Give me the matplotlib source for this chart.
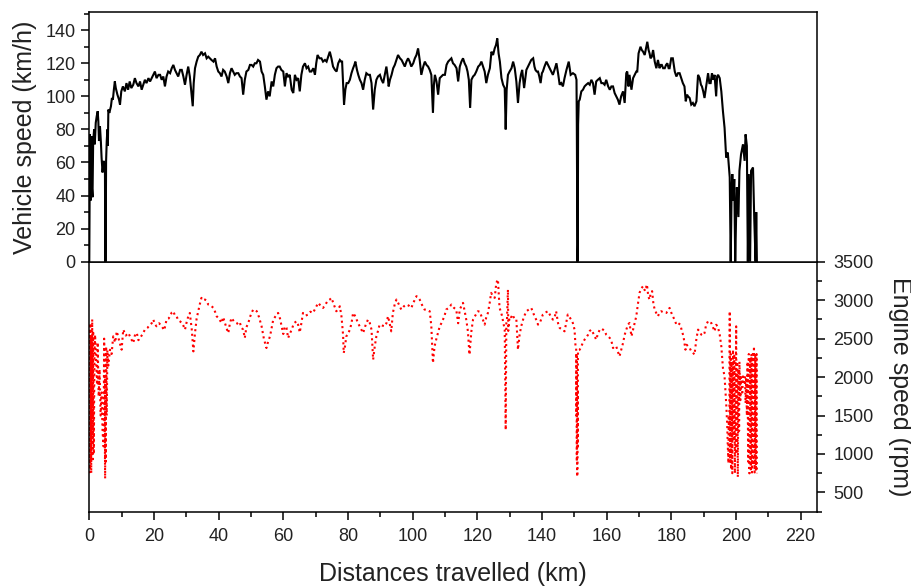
import matplotlib
matplotlib.use("Agg")
import matplotlib.pyplot as plt
from matplotlib.ticker import MultipleLocator

plt.rcParams["font.family"] = ["Liberation Sans", "DejaVu Sans"]
TEXT = "#222222"

# ─── Vehicle speed log (distance km, speed km/h) ──────────────────────────────
speed_km = [
    0.0, 0.2, 0.4, 0.6, 0.8, 1.0, 1.2, 1.5, 1.7, 2.0, 2.3, 2.6, 2.8, 3.0, 3.3, 3.6,
    3.8, 4.1, 4.3, 4.5, 4.7, 4.85, 4.95, 5.05, 5.2, 5.4, 5.6, 5.75, 5.9, 6.2, 6.7,
    7.0, 7.3, 7.6, 7.9, 8.2,
    8.7, 9.2, 9.5, 9.9, 10.4, 11.0, 11.5, 12.0, 12.5, 13.0, 13.6, 14.1, 14.6, 15.2,
    15.7, 16.2, 16.7, 17.2, 17.7, 18.3, 18.8, 19.3, 19.8, 20.3, 20.8, 21.4, 21.9,
    22.4, 22.9, 23.4, 23.9, 24.4, 25.0, 25.5, 26.0, 26.5, 27.0, 27.5, 28.1, 28.6,
    29.1, 29.6, 30.1, 30.6, 31.1, 31.5, 32.0, 32.3, 32.7, 33.2, 33.7, 34.2, 34.7,
    35.2, 35.8, 36.3, 36.8, 37.3, 37.8, 38.4, 38.9, 39.4, 39.9, 40.4, 40.9, 41.4,
    41.9, 42.5, 43.0, 43.5, 44.0, 44.5, 45.0, 45.5, 46.1, 46.6, 47.1, 47.6, 48.1,
    48.6, 49.2, 49.7, 50.2, 50.7, 51.2, 51.7, 52.2, 52.8, 53.3, 53.8, 54.3, 54.8,
    55.3, 55.8,
    56.4, 56.9, 57.4, 57.9, 58.4, 58.9, 59.4, 60.0, 60.5, 61.0, 61.5, 62.0, 62.6,
    63.1, 63.6, 64.1, 64.6, 65.1, 65.6, 66.1, 66.7, 67.2, 67.7, 68.2, 68.7, 69.3,
    69.8, 70.2, 70.6, 71.2, 71.8, 72.3, 72.9, 73.4, 73.9, 74.4, 74.9, 75.4, 76.0,
    76.5, 77.0, 77.5, 77.9, 78.2, 78.5, 78.8, 79.2, 79.6, 80.1, 80.6, 81.1, 81.6,
    82.0, 82.3, 82.8, 83.2, 83.7, 84.2, 84.7, 85.2, 85.7, 86.3, 86.8, 87.3, 87.8,
    88.3, 88.8, 89.3, 89.9, 90.4, 90.9, 91.4, 91.9, 92.3, 92.6, 93.0, 93.5, 94.0,
    94.5, 95.0, 95.5, 96.1, 96.6, 97.1, 97.6, 98.1, 98.6, 99.1, 99.6, 100.2, 100.7,
    101.2, 101.7, 102.2, 102.7, 103.3, 103.8, 104.3, 104.8, 105.3, 105.8, 106.3,
    106.6, 106.9, 107.4, 107.9, 108.4, 108.9, 109.4, 110.0,
    110.5, 111.0, 111.5, 112.0, 112.5, 113.0, 113.6, 114.1, 114.6, 115.1, 115.6,
    116.1, 116.6, 117.0, 117.4, 117.8, 118.2, 118.7, 119.2, 119.7, 120.3, 120.8,
    121.3, 121.8, 122.3, 122.8, 123.3, 123.9, 124.4, 124.9, 125.4, 125.8, 126.2,
    126.6, 127.0, 127.5, 128.0, 128.5, 128.8, 129.1, 129.5, 130.0, 130.6, 131.1,
    131.6, 132.1, 132.6, 133.1, 133.5, 133.9, 134.5, 135.2, 135.7, 136.2, 136.7,
    137.3, 137.7, 138.0, 138.4, 138.8, 139.2, 139.6, 140.0, 140.3, 140.8, 141.4,
    141.9, 142.4, 142.9, 143.4, 143.9, 144.5, 145.0, 145.5, 146.0, 146.5, 147.0,
    147.6, 148.0, 148.3, 148.9, 149.6, 150.3, 150.7, 150.8, 150.95, 151.0, 151.1,
    151.2, 151.4, 151.7, 152.2, 152.7, 153.2, 153.7, 154.3, 154.8, 155.3, 155.8,
    156.3, 156.8, 157.3, 157.9, 158.4, 158.9, 159.4, 159.9, 160.5, 161.0, 161.5,
    162.0, 162.5, 163.0, 163.5, 164.0, 164.5, 165.1, 165.6, 166.1, 166.4, 166.8,
    167.1, 167.7, 168.2, 168.7, 169.2, 169.5, 169.9, 170.5, 170.9, 171.3, 171.8,
    172.2, 172.6, 173.0, 173.3, 173.6, 174.0, 174.4, 174.9, 175.4, 175.9, 176.4,
    176.8, 177.1, 177.5, 178.0, 178.4, 178.8, 179.2, 179.5, 180.0, 180.5, 181.1,
    181.6, 182.1, 182.6, 183.1, 183.6, 184.1, 184.5, 184.9, 185.2, 185.7, 186.2,
    186.7, 187.2, 187.8, 188.3, 188.8, 189.2, 189.5, 189.9, 190.3, 190.8, 191.4,
    191.8, 192.2, 192.6, 193.0, 193.4, 193.9, 194.2, 194.5, 195.0, 195.5, 196.0,
    196.5, 197.0, 197.5, 198.1, 198.4, 198.7, 198.9, 199.3, 199.5, 199.8, 200.1,
    200.3, 200.8, 201.1, 201.6, 202.2, 202.7, 203.0, 203.4, 203.7, 204.0, 204.4,
    204.7, 205.3, 205.5, 205.7, 206.1, 206.3, 206.5,
]
speed_kmh = [
    0, 77, 37, 76, 45, 39, 73, 80, 71, 84, 88, 91, 85, 73, 82, 72,
    63, 54, 58, 61, 56, 54, 0, 0, 61, 73, 80, 70, 92, 90, 94,
    99, 98, 104, 109, 105,
    101, 98, 95, 103, 106, 103, 108, 104, 109, 105, 107, 111, 108, 106,
    109, 104, 107, 110, 108, 111, 109, 111, 113, 115, 111, 113, 113,
    110, 112, 106, 112, 115, 114, 117, 119, 116, 114, 112, 116, 116,
    112, 107, 113, 118, 112, 104, 94, 108, 117, 121, 124, 125, 127,
    125, 126, 123, 124, 123, 122, 121, 123, 118, 115, 114, 112, 116,
    115, 112, 108, 114, 117, 115, 113, 114, 114, 112, 111, 101, 110,
    115, 116, 119, 119, 118, 120, 120, 122, 121, 115, 113, 106, 98,
    103, 100,
    109, 106, 113, 117, 118, 118, 116, 115, 106, 114, 112, 113, 104,
    102, 113, 110, 111, 103, 113, 118, 120, 117, 118, 115, 115, 117,
    113, 120, 125, 123, 123, 121, 122, 121, 124, 127, 123, 118, 116,
    115, 120, 122, 121, 121, 108, 95, 104, 108, 108, 110, 114, 117,
    119, 121, 116, 113, 110, 108, 104, 110, 114, 113, 113, 108, 92,
    104, 110, 112, 113, 110, 108, 113, 118, 112, 106, 110, 113, 117,
    119, 122, 125, 123, 122, 120, 118, 121, 123, 121, 118, 120, 123,
    125, 129, 122, 113, 118, 121, 119, 118, 116, 113, 90,
    107, 113, 109, 101, 111, 112, 113, 113,
    119, 121, 122, 123, 120, 119, 117, 109, 118, 121, 123,
    120, 118, 115, 110, 93, 110, 112, 113, 115, 118, 119,
    121, 118, 115, 108, 113, 117, 127, 125, 129, 131, 135,
    126, 121, 111, 107, 105, 80, 104, 113, 115, 117, 121,
    117, 109, 96, 108, 113, 116, 105, 116, 118, 120, 122,
    123, 118, 116, 115, 115, 112, 108, 114, 115, 118, 121,
    119, 117, 115, 113, 116, 120, 114, 107, 108, 106, 111,
    116, 119, 121, 113, 114, 113, 110, 83, 10, 0, 10,
    83, 97, 98, 103, 104, 106, 107, 108, 107, 110, 108,
    101, 109, 110, 111, 108, 108, 107, 110, 106, 104, 106,
    106, 102, 100, 98, 95, 100, 103, 96, 114, 115, 106,
    113, 104, 111, 113, 115, 115, 126, 130, 128, 127, 125,
    129, 133, 128, 126, 123, 124, 128, 121, 117, 122, 117,
    119, 119, 117, 117, 119, 120, 117, 117, 123, 123, 115,
    112, 114, 114, 111, 108, 106, 97, 101, 100, 99, 95,
    96, 94, 97, 113, 111, 107, 106, 103, 99, 106, 114,
    108, 108, 114, 110, 113, 100, 112, 113, 111, 103, 91,
    81, 63, 66, 51, 0, 45, 53, 37, 50, 0, 30,
    45, 27, 55, 65, 71, 61, 77, 70, 0, 53, 0,
    55, 57, 40, 25, 0, 30, 0,
]

# ─── Engine speed log (distance km, rpm) ──────────────────────────────────────
rpm_km = [
    0.0, 0.1, 0.2, 0.3, 0.4, 0.5, 0.6, 0.7, 0.8, 0.9, 1.0, 1.2, 1.4, 1.6, 1.8, 2.1,
    2.4, 2.6, 2.9, 3.2, 3.5, 3.8, 4.1, 4.4, 4.6, 4.8, 4.9, 5.0, 5.1, 5.2, 5.4, 5.6,
    5.9, 6.4, 6.9, 7.4, 8.0, 8.5, 9.2, 10.0, 10.5, 11.3, 12.1, 12.9, 13.6, 14.2,
    14.7, 15.2, 15.7, 16.5, 17.2, 18.0, 18.8, 19.3, 19.8, 20.3, 20.8, 21.6, 22.4,
    23.2, 23.9, 24.5, 25.0, 25.5, 26.0, 26.5, 27.0, 27.5, 28.0, 28.8, 29.6, 30.3,
    31.1, 31.7, 32.2, 32.7, 33.2, 33.7, 34.2, 34.7, 35.3, 35.8, 36.3, 36.8, 37.6,
    38.4, 38.9, 39.4, 40.1, 40.9, 41.4, 42.0, 42.5, 43.0, 43.5, 44.0, 44.8, 45.6,
    46.1, 46.6, 47.1, 47.6, 48.1, 48.6, 49.2, 49.7, 50.2, 50.7, 51.3, 51.8, 52.5,
    53.3, 54.0, 54.8, 55.3, 55.9, 56.4, 56.9, 57.6, 58.4, 59.0, 59.5, 60.0, 60.5,
    61.0, 61.5, 62.0, 62.6, 63.3, 64.1, 64.6, 65.1, 65.6, 66.1, 66.9, 67.7, 68.4,
    69.2, 70.0, 70.8, 71.5, 72.3, 73.0, 73.7, 74.4, 74.9, 75.6, 76.4, 77.0, 77.5,
    78.0, 78.5, 78.7, 79.1, 79.5, 80.0, 80.6, 81.1, 81.6, 82.3, 83.1, 83.9, 84.7,
    85.5, 86.2, 86.8, 87.3, 87.8, 88.3, 88.8, 89.3, 89.8, 90.6, 91.4, 91.9, 92.4,
    92.9, 93.4, 93.9, 94.5, 95.0, 95.7, 96.5, 97.3, 98.1, 98.8, 99.6, 100.4, 101.2,
    101.7, 102.2, 102.9, 103.7, 104.5, 105.3, 105.8, 106.3, 106.8, 107.3, 107.9,
    108.4, 108.9, 109.4, 109.9, 110.4, 111.2, 112.0, 112.8, 113.5, 114.1, 114.6,
    115.6, 116.1, 116.6, 117.1, 117.6, 118.2, 118.7, 119.4, 120.2, 120.8, 121.3,
    121.8, 122.3, 122.8, 123.3, 123.8, 124.3, 124.9, 125.4, 125.9, 126.4, 126.9,
    127.3, 127.7, 128.1, 128.5, 128.8, 129.0, 129.2, 129.5, 129.6, 130.0, 130.5,
    131.0, 131.5, 132.1, 132.6, 133.1, 133.6, 134.4, 135.2, 136.0, 136.7, 137.2,
    137.7, 138.2, 138.8, 139.5, 140.3, 141.1, 141.9, 142.6, 143.4, 144.0, 144.4,
    145.0, 145.5, 146.2, 147.0, 147.5, 148.0, 148.5, 149.1, 149.6, 150.1, 150.4,
    150.6, 150.7, 150.75, 150.8, 150.85, 150.9, 151.0, 151.05, 151.1, 151.15,
    151.2, 151.7, 152.2, 152.7, 153.2, 153.8, 154.3, 154.8, 155.3, 156.0, 156.8,
    157.3, 157.9, 158.4, 158.9, 159.4, 159.9, 160.5, 161.0, 161.5, 162.0, 162.5,
    163.0, 163.5, 164.0, 164.5, 165.1, 165.6, 166.1, 166.6, 167.1, 167.7, 168.2,
    168.7, 169.2, 169.7, 170.2, 170.7, 171.3, 171.9, 172.5, 172.9, 173.3, 173.7,
    174.1, 174.5, 174.9, 175.4, 175.9, 176.4, 176.9, 177.7, 178.5, 179.0, 179.5,
    180.0, 180.5, 181.1, 181.6, 182.2, 182.8, 183.3, 183.8, 184.4, 184.8, 185.2,
    185.7, 186.2, 186.7, 187.2, 187.8, 188.3, 188.8, 189.3, 189.8, 190.3, 190.8,
    191.4, 191.9, 192.4, 192.9, 193.4, 193.9, 194.4, 195.0, 195.5, 196.0, 196.5,
    197.0, 197.3, 197.5, 197.7, 197.8, 198.0, 198.1, 198.2, 198.4, 198.5, 198.7,
    198.9, 199.1, 199.3, 199.5, 199.7, 199.9, 200.1, 200.2, 200.4, 200.6, 200.8,
    201.0, 201.1, 201.4, 201.6, 202.0, 202.2, 202.5, 202.8, 203.0, 203.2, 203.4,
    203.6, 203.8, 204.0, 204.2, 204.4, 204.6, 204.8, 205.0, 205.2, 205.4, 205.6,
    205.8, 206.0, 206.2, 206.4, 206.5,
]
engine_rpm = [
    750, 2600, 800, 2700, 900, 2500, 750, 2400, 1200, 2750, 900, 2600, 1000, 2300, 2550, 2200,
    1900, 2450, 1750, 2100, 1500, 1800, 1300, 1100, 2500, 1200, 680, 2000, 900, 2400, 1500, 2350,
    2150, 2356, 2300, 2530, 2450, 2595, 2480, 2356, 2617, 2540, 2573, 2500, 2443, 2560,
    2573, 2480, 2508, 2560, 2617, 2640, 2682, 2700, 2747, 2690, 2660, 2700, 2660,
    2610, 2747, 2760, 2791, 2840, 2856, 2800, 2791, 2740, 2726, 2700, 2617, 2750,
    2834, 2617, 2334, 2573, 2760, 2856, 2950, 3030, 3000, 3008, 2990, 2943, 2930,
    2899, 2850, 2791, 2760, 2704, 2780, 2700, 2630, 2573, 2700, 2769, 2720, 2704,
    2680, 2704, 2640, 2617, 2508, 2650, 2704, 2780, 2834, 2878, 2870, 2856, 2780,
    2660, 2500, 2378, 2460, 2530, 2640, 2747, 2790, 2834, 2760, 2660, 2560, 2660,
    2640, 2508, 2560, 2617, 2700, 2726, 2680, 2580, 2700, 2834, 2800, 2812, 2850,
    2834, 2900, 2965, 2930, 2899, 2940, 2990, 3008, 3030, 2950, 2856, 2880, 2921,
    2791, 2550, 2313, 2400, 2530, 2560, 2617, 2700, 2834, 2790, 2704, 2640, 2573,
    2680, 2747, 2700, 2617, 2226, 2400, 2530, 2600, 2682, 2670, 2660, 2700, 2791,
    2700, 2595, 2834, 2950, 3008, 2950, 2878, 2920, 2943, 2930, 2899, 2980, 3052,
    3040, 3008, 2940, 2878, 2870, 2856, 2660, 2182, 2400, 2487, 2580,
    2660, 2700, 2747, 2800, 2878, 2900, 2943, 2900, 2878, 2700, 2880,
    2965, 2860, 2747, 2600, 2291, 2600, 2747, 2800, 2856, 2850, 2791,
    2740, 2682, 2780, 2834, 2950, 3095, 3050, 3030, 3225, 3269, 2899,
    2850, 2791, 2700, 2617, 1313, 2700, 2750, 3138, 2600, 2791, 2780,
    2812, 2750, 2747, 2356, 2550, 2660, 2780, 2856, 2880, 2899, 2850,
    2791, 2750, 2682, 2720, 2813, 2840, 2856, 2800, 2747, 2790, 2856,
    2700, 2639, 2620, 2595, 2700, 2813, 2780, 2747, 2700, 2617, 2400,
    2380, 1500, 2300, 900, 2000, 705, 720, 1800, 1100, 2300,
    2350, 2356, 2400, 2450, 2487, 2520, 2552, 2600, 2617, 2560, 2487,
    2560, 2617, 2630, 2617, 2600, 2552, 2530, 2508, 2470, 2378, 2400,
    2400, 2330, 2269, 2350, 2443, 2550, 2617, 2680, 2704, 2530, 2617,
    2700, 2791, 2950, 3095, 3150, 3182, 3120, 3204, 3050, 3008, 3100,
    3117, 2950, 2878, 2830, 2791, 2840, 2856, 2840, 2834, 2870, 2899,
    2840, 2791, 2740, 2682, 2700, 2682, 2600, 2530, 2356, 2420, 2400,
    2380, 2334, 2320, 2291, 2500, 2617, 2590, 2552, 2540, 2573, 2680,
    2726, 2704, 2704, 2650, 2595, 2680, 2660, 2552, 2400, 2117, 2009,
    1661, 1400, 1100, 880, 1500, 1300, 2856, 900, 2300, 800, 2200,
    750, 2356, 1200, 2300, 748, 1800, 2660, 1000, 2200, 700, 2100,
    1300, 2200, 1700, 2000, 1800, 2009, 1900, 2000, 1661, 2000, 1500,
    2200, 900, 2300, 748, 2250, 800, 2300, 760, 2300, 850, 2400,
    760, 2300, 780, 2300, 750,
]

# ─── Figure: two stacked panels sharing the distance axis ─────────────────────
fig = plt.figure(figsize=(9.12, 5.88), dpi=100)
ax_rpm = fig.add_axes([0.0979, 0.1298, 0.7976, 0.4251])
ax_spd = fig.add_axes([0.0979, 0.5549, 0.7976, 0.4247], sharex=ax_rpm)

ax_spd.plot(speed_km, speed_kmh, color="black", lw=1.5, solid_joinstyle="miter")
ax_rpm.plot(rpm_km, engine_rpm, color="red", lw=1.5, linestyle=(0, (1, 1.6)))

for ax in (ax_spd, ax_rpm):
    for sp in ax.spines.values():
        sp.set_linewidth(1.1)
        sp.set_color("black")
    ax.tick_params(which="both", direction="out", width=1.1, colors="black",
                   labelcolor=TEXT, labelsize=13, pad=4)
    ax.tick_params(which="major", length=6)
    ax.tick_params(which="minor", length=3.5)

ax_rpm.set_xlim(0, 225)
ax_rpm.xaxis.set_major_locator(MultipleLocator(20))
ax_rpm.xaxis.set_minor_locator(MultipleLocator(10))
ax_rpm.tick_params(axis="x", which="both", pad=6)

# upper panel: speed on the left axis
ax_spd.set_ylim(0, 151)
ax_spd.yaxis.set_major_locator(MultipleLocator(20))
ax_spd.yaxis.set_minor_locator(MultipleLocator(10))
ax_spd.tick_params(axis="x", which="both", bottom=False, labelbottom=False)
ax_spd.set_ylabel("Vehicle speed (km/h)", fontsize=18, color=TEXT, labelpad=6)

# lower panel: rpm on the right axis
ax_rpm.set_ylim(250, 3500)
ax_rpm.yaxis.set_major_locator(MultipleLocator(500))
ax_rpm.yaxis.set_minor_locator(MultipleLocator(250))
ax_rpm.yaxis.tick_right()
ax_rpm.yaxis.set_label_position("right")
ax_rpm.tick_params(axis="y", which="both", left=False, right=True,
                   labelleft=False, labelright=True, pad=6)
ax_rpm.set_ylabel("Engine speed (rpm)", fontsize=18, color=TEXT,
                  rotation=270, va="bottom", labelpad=10)
ax_rpm.set_xlabel("Distances travelled (km)", fontsize=18, color=TEXT, labelpad=12)

fig.savefig("out.png", dpi=100)
